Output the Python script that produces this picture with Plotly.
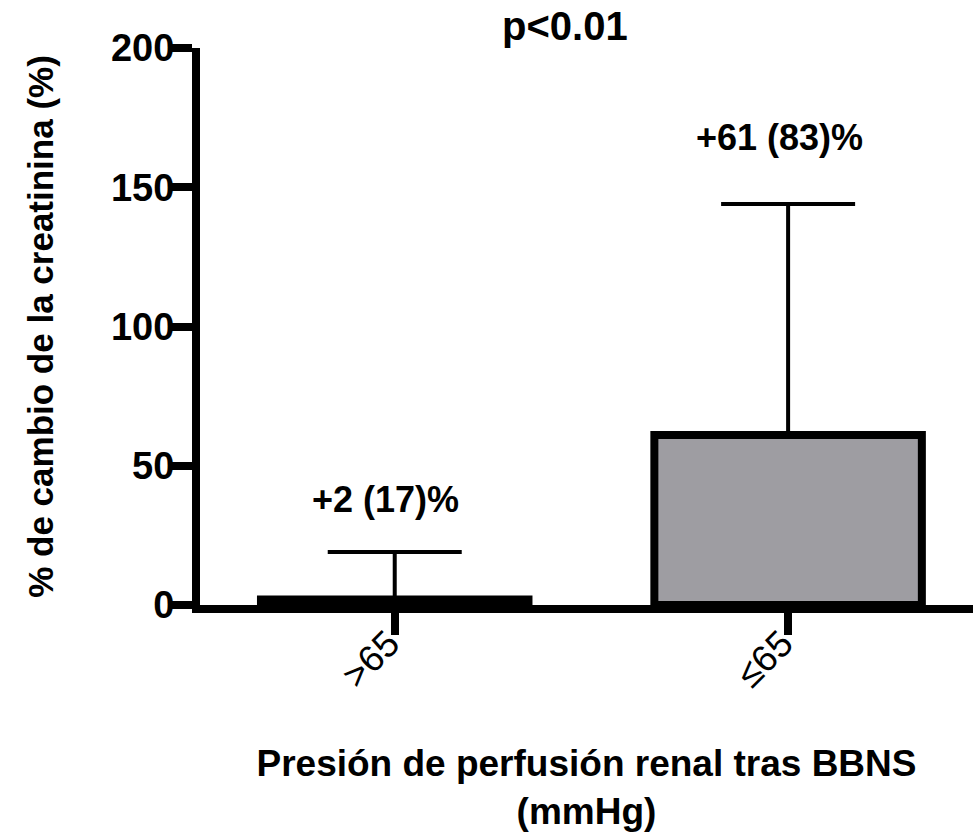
import plotly.graph_objects as go

# Data: mean change in creatinine with SD, by renal perfusion pressure group
categories = [">65", "≤65"]
mean_change = [2, 61]
sd_change = [17, 83]
value_labels = ["+2 (17)%", "+61 (83)%"]

FONT = "Liberation Sans, Arial, sans-serif"
BAR_FILL = "#9e9da2"

fig = go.Figure()
fig.add_trace(go.Bar(
    x=categories,
    y=mean_change,
    width=0.68,
    marker=dict(color=BAR_FILL, line=dict(color="black", width=8)),
    error_y=dict(
        type="data",
        symmetric=False,
        array=sd_change,
        arrayminus=[0] * len(sd_change),
        color="black",
        thickness=4,
        width=67,
    ),
    showlegend=False,
    hoverinfo="skip",
))

# Value labels above each error bar
label_offsets = [19, 24]
for cat, m, s, txt, off in zip(categories, mean_change, sd_change, value_labels, label_offsets):
    fig.add_annotation(
        x=cat, y=m + s + off, text=txt, showarrow=False, xshift=-9,
        font=dict(family=FONT, size=36, color="black", weight="bold"),
        xanchor="center", yanchor="middle",
    )

# Significance label at the top
fig.add_annotation(
    x=0.4716, xref="paper", y=1.0, yref="paper", yanchor="middle", yshift=22,
    text="p<0.01", showarrow=False,
    font=dict(family=FONT, size=40, color="black", weight="bold"),
)

fig.update_layout(
    width=973, height=832,
    margin=dict(l=200, r=0, t=48, b=227),
    paper_bgcolor="white", plot_bgcolor="white",
    font=dict(family=FONT, color="black"),
    xaxis=dict(
        type="category",
        range=[-0.495, 1.47],
        showline=True, linecolor="black", linewidth=8,
        ticks="outside", ticklen=22, tickwidth=8, tickcolor="black",
        tickangle=-45,
        ticklabelstandoff=-28,
        ticklabelshift=-6,
        tickfont=dict(family=FONT, size=37, color="black"),
        showgrid=False, zeroline=False,
        title=dict(
            text="Presión de perfusión renal tras BBNS<br>(mmHg)",
            font=dict(family=FONT, size=37, color="black", weight="bold"),
            standoff=90,
        ),
        automargin=False,
    ),
    yaxis=dict(
        range=[0, 200],
        tickvals=[0, 50, 100, 150, 200],
        showline=True, linecolor="black", linewidth=8,
        ticks="outside", ticklen=20, tickwidth=8, tickcolor="black",
        ticklabelstandoff=-10,
        tickfont=dict(family=FONT, size=38, color="black", weight="bold"),
        showgrid=False, zeroline=False,
        title=dict(
            text="% de cambio de la creatinina (%)",
            font=dict(family=FONT, size=35, color="black", weight="bold"),
            standoff=50,
        ),
        automargin=False,
    ),
)

fig.write_html("out.html")
